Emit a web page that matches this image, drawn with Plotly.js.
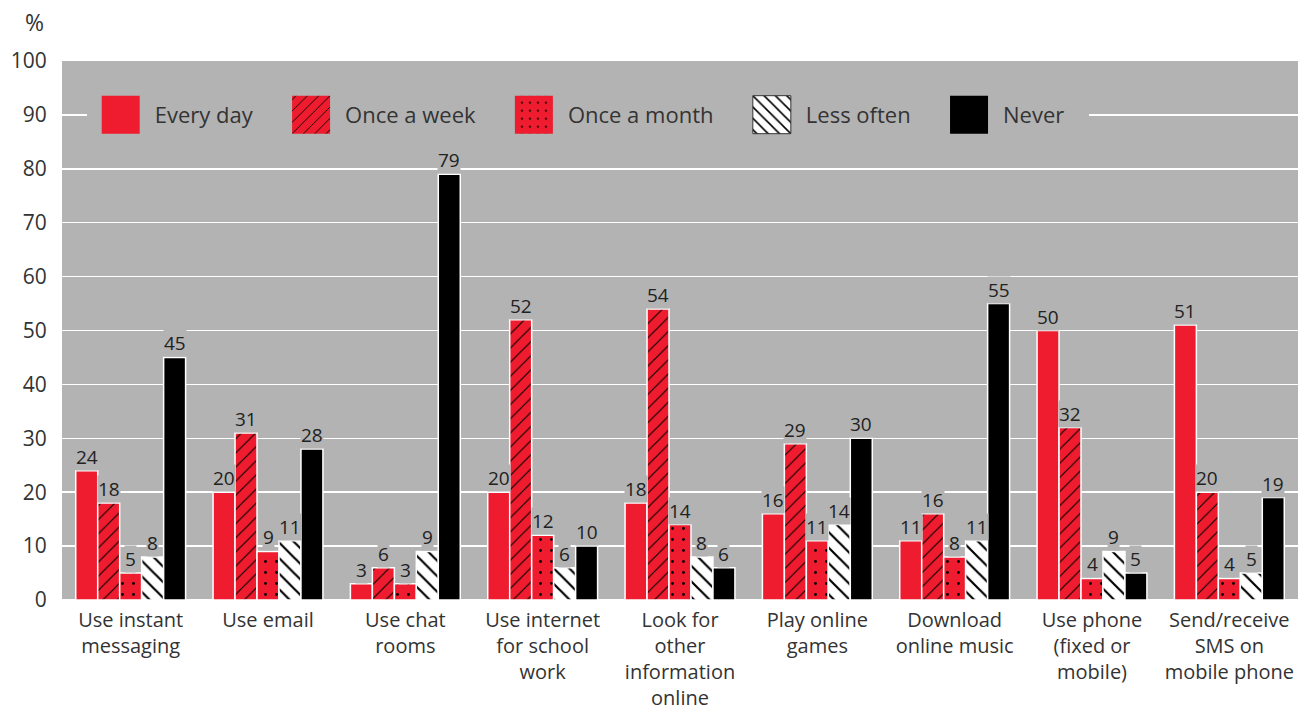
<!DOCTYPE html>
<html>
<head>
<meta charset="utf-8">
<script src="https://cdn.plot.ly/plotly-3.0.1.min.js"></script>
<style>html,body{margin:0;padding:0;background:#fff;}#chart{width:1299px;height:708px;}</style>
</head>
<body>
<div id="chart"></div>
<script>
const categories = [
  "Use instant<br>messaging",
  "Use email",
  "Use chat<br>rooms",
  "Use internet<br>for school<br>work",
  "Look for<br>other<br>information<br>online",
  "Play online<br>games",
  "Download<br>online music",
  "Use phone<br>(fixed or<br>mobile)",
  "Send/receive<br>SMS on<br>mobile phone"
];
const seriesNames = ["Every day", "Once a week", "Once a month", "Less often", "Never"];
const everyDay   = [24, 20, 3, 20, 18, 16, 11, 50, 51];
const onceWeek   = [18, 31, 6, 52, 54, 29, 16, 32, 20];
const onceMonth  = [5, 9, 3, 12, 14, 11, 8, 4, 4];
const lessOften  = [8, 11, 9, 6, 8, 14, 11, 9, 5];
const never      = [45, 28, 79, 10, 6, 30, 55, 5, 19];
const yTicks = [0, 10, 20, 30, 40, 50, 60, 70, 80, 90, 100];

const RED = '#ee1c2e', GRAY = '#b3b3b3', BLACK = '#000000', WHITE = '#ffffff';
const FONT = '"Open Sans", "Noto Sans", sans-serif';
const allValues = [everyDay, onceWeek, onceMonth, lessOften, never];
const styles = [
  {color: RED},
  {color: RED, pattern: {shape: '/', bgcolor: RED, fgcolor: BLACK, fillmode: 'replace', size: 10, solidity: 0.11}},
  {color: RED, pattern: {shape: '.', bgcolor: RED, fgcolor: BLACK, fillmode: 'replace', size: 11, solidity: 0.05}},
  {color: WHITE, pattern: {shape: '\\', bgcolor: WHITE, fgcolor: BLACK, fillmode: 'replace', size: 11, solidity: 0.2}},
  {color: BLACK}
];
const pad = '\u00a0\u00a0\u00a0\u200a';

const traces = allValues.map((vals, i) => ({
  type: 'bar',
  name: seriesNames[i] + pad,
  x: categories,
  y: vals,
  marker: Object.assign({line: {color: WHITE, width: 1.5}}, styles[i]),
  hoverinfo: 'skip'
}));

const W = 1299, H = 708, ML = 62, MR = 1, MT = 61, MB = 108;
const bargap = 0.2;
const plotW = W - ML - MR;
const barW = plotW / categories.length * (1 - bargap) / allValues.length;

const annotations = [];
allValues.forEach((vals, i) => {
  vals.forEach((v, j) => {
    annotations.push({
      x: j, y: v, xref: 'x', yref: 'y', text: String(v), showarrow: false,
      yanchor: 'bottom', xanchor: 'center', xshift: (i - (allValues.length - 1) / 2) * barW,
      bgcolor: GRAY, borderpad: 0,
      font: {family: FONT, size: 19, color: '#222'}
    });
  });
});
annotations.push({
  text: '%', xref: 'paper', yref: 'paper', x: -0.013, y: 1.073, showarrow: false,
  xanchor: 'right', yanchor: 'middle', font: {family: FONT, size: 23, color: '#333'}
});

const layout = {
  width: W, height: H,
  margin: {l: ML, r: MR, t: MT, b: MB, pad: 0},
  paper_bgcolor: WHITE, plot_bgcolor: GRAY,
  barmode: 'group', bargap: bargap, bargroupgap: 0,
  font: {family: FONT, color: '#333'},
  showlegend: true,
  legend: {
    orientation: 'h', x: 0.02, y: 0.9, xanchor: 'left', yanchor: 'middle',
    bgcolor: GRAY, borderwidth: 0, itemwidth: 58, itemclick: false, itemdoubleclick: false,
    font: {family: FONT, size: 22, color: '#333'}, traceorder: 'normal'
  },
  xaxis: {
    type: 'category', showgrid: false, zeroline: false, showline: false,
    ticks: 'outside', ticklen: 2, tickcolor: 'rgba(0,0,0,0)',
    tickfont: {family: FONT, size: 20, color: '#333'}
  },
  yaxis: {
    range: [0, 100], tickvals: yTicks, ticktext: yTicks.map(String),
    showgrid: true, gridcolor: WHITE, gridwidth: 1.5, zeroline: true, zerolinecolor: WHITE, zerolinewidth: 1.5,
    showline: false, ticks: 'outside', ticklen: 10, tickcolor: 'rgba(0,0,0,0)',
    tickfont: {family: FONT, size: 21, color: '#333'}
  },
  annotations: annotations
};

Plotly.newPlot('chart', traces, layout, {displayModeBar: false, staticPlot: true}).then(() => {
  document.querySelectorAll('.legend .legendpoints path').forEach((p, idx) => {
    p.setAttribute('d', 'M19,19H-19V-19H19Z');
    if (idx === 3) { p.style.stroke = '#333'; p.style.strokeWidth = '1px'; }
    else { p.style.stroke = 'none'; }
  });
});
</script>
</body>
</html>
